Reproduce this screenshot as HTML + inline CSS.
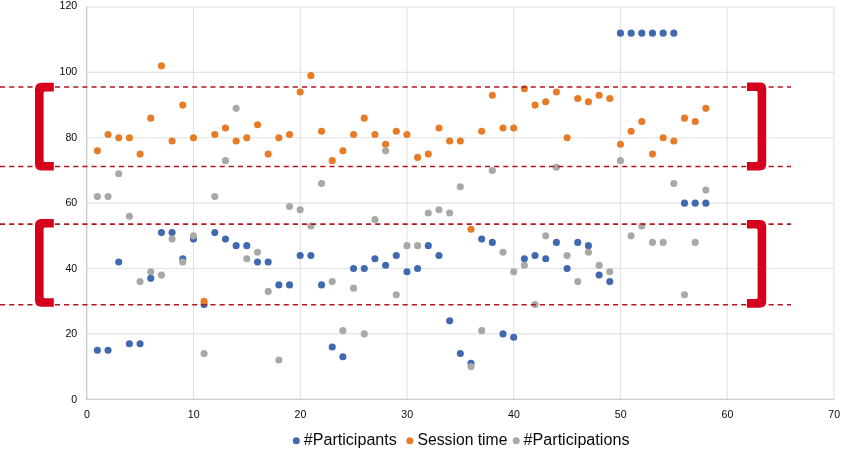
<!DOCTYPE html>
<html lang="en"><head><meta charset="utf-8"><title>Scatter chart</title>
<style>html,body{margin:0;padding:0;background:#fff;}body{width:850px;height:456px;overflow:hidden;}svg{display:block;}text{font-family:"Liberation Sans",Arial,sans-serif;fill:#0a0a0a;}</style></head><body>
<svg width="850" height="456" viewBox="0 0 850 456">
<rect width="850" height="456" fill="#fff"/>
<g stroke="#e2e2e2" stroke-width="1.1" fill="none">
<line x1="86.70" y1="333.92" x2="834.45" y2="333.92"/>
<line x1="86.70" y1="268.54" x2="834.45" y2="268.54"/>
<line x1="86.70" y1="203.16" x2="834.45" y2="203.16"/>
<line x1="86.70" y1="137.78" x2="834.45" y2="137.78"/>
<line x1="86.70" y1="72.40" x2="834.45" y2="72.40"/>
<line x1="86.70" y1="7.02" x2="834.45" y2="7.02"/>
<line x1="193.45" y1="7.02" x2="193.45" y2="399.30"/>
<line x1="300.20" y1="7.02" x2="300.20" y2="399.30"/>
<line x1="406.95" y1="7.02" x2="406.95" y2="399.30"/>
<line x1="513.70" y1="7.02" x2="513.70" y2="399.30"/>
<line x1="620.45" y1="7.02" x2="620.45" y2="399.30"/>
<line x1="727.20" y1="7.02" x2="727.20" y2="399.30"/>
<line x1="833.95" y1="7.02" x2="833.95" y2="399.30"/>
</g>
<g stroke="#bfbfbf" stroke-width="1.1" fill="none">
<line x1="86.70" y1="6.52" x2="86.70" y2="399.80"/>
<line x1="86.20" y1="399.30" x2="834.45" y2="399.30"/>
</g>
<g font-size="10.6" text-anchor="end">
<text x="77.2" y="402.85">0</text>
<text x="77.2" y="337.30">20</text>
<text x="77.2" y="271.75">40</text>
<text x="77.2" y="206.20">60</text>
<text x="77.2" y="140.65">80</text>
<text x="77.2" y="75.10">100</text>
<text x="77.2" y="9.20">120</text>
</g>
<g font-size="10.6" text-anchor="middle">
<text x="86.90" y="418.1">0</text>
<text x="193.65" y="418.1">10</text>
<text x="300.40" y="418.1">20</text>
<text x="407.15" y="418.1">30</text>
<text x="513.90" y="418.1">40</text>
<text x="620.65" y="418.1">50</text>
<text x="727.40" y="418.1">60</text>
<text x="834.15" y="418.1">70</text>
</g>
<g fill="#4169b0">
<circle cx="97.38" cy="350.26" r="3.55"/><circle cx="108.05" cy="350.26" r="3.55"/><circle cx="118.73" cy="262.00" r="3.55"/><circle cx="129.40" cy="343.73" r="3.55"/><circle cx="140.07" cy="343.73" r="3.55"/><circle cx="150.75" cy="278.35" r="3.55"/><circle cx="161.43" cy="232.58" r="3.55"/><circle cx="172.10" cy="232.58" r="3.55"/><circle cx="182.78" cy="258.73" r="3.55"/><circle cx="193.45" cy="239.12" r="3.55"/><circle cx="204.12" cy="304.50" r="3.55"/><circle cx="214.80" cy="232.58" r="3.55"/><circle cx="225.48" cy="239.12" r="3.55"/><circle cx="236.15" cy="245.66" r="3.55"/><circle cx="246.82" cy="245.66" r="3.55"/><circle cx="257.50" cy="262.00" r="3.55"/><circle cx="268.18" cy="262.00" r="3.55"/><circle cx="278.85" cy="284.88" r="3.55"/><circle cx="289.53" cy="284.88" r="3.55"/><circle cx="300.20" cy="255.46" r="3.55"/><circle cx="310.88" cy="255.46" r="3.55"/><circle cx="321.55" cy="284.88" r="3.55"/><circle cx="332.23" cy="347.00" r="3.55"/><circle cx="342.90" cy="356.80" r="3.55"/><circle cx="353.57" cy="268.54" r="3.55"/><circle cx="364.25" cy="268.54" r="3.55"/><circle cx="374.93" cy="258.73" r="3.55"/><circle cx="385.60" cy="265.27" r="3.55"/><circle cx="396.28" cy="255.46" r="3.55"/><circle cx="406.95" cy="271.81" r="3.55"/><circle cx="417.62" cy="268.54" r="3.55"/><circle cx="428.30" cy="245.66" r="3.55"/><circle cx="438.98" cy="255.46" r="3.55"/><circle cx="449.65" cy="320.84" r="3.55"/><circle cx="460.32" cy="353.53" r="3.55"/><circle cx="471.00" cy="363.34" r="3.55"/><circle cx="481.68" cy="239.12" r="3.55"/><circle cx="492.35" cy="242.39" r="3.55"/><circle cx="503.03" cy="333.92" r="3.55"/><circle cx="513.70" cy="337.19" r="3.55"/><circle cx="524.38" cy="258.73" r="3.55"/><circle cx="535.05" cy="255.46" r="3.55"/><circle cx="545.73" cy="258.73" r="3.55"/><circle cx="556.40" cy="242.39" r="3.55"/><circle cx="567.08" cy="268.54" r="3.55"/><circle cx="577.75" cy="242.39" r="3.55"/><circle cx="588.43" cy="245.66" r="3.55"/><circle cx="599.10" cy="275.08" r="3.55"/><circle cx="609.78" cy="281.62" r="3.55"/><circle cx="620.45" cy="33.17" r="3.55"/><circle cx="631.13" cy="33.17" r="3.55"/><circle cx="641.80" cy="33.17" r="3.55"/><circle cx="652.48" cy="33.17" r="3.55"/><circle cx="663.15" cy="33.17" r="3.55"/><circle cx="673.83" cy="33.17" r="3.55"/><circle cx="684.50" cy="203.16" r="3.55"/><circle cx="695.18" cy="203.16" r="3.55"/><circle cx="705.85" cy="203.16" r="3.55"/>
</g>
<g fill="#e87b25">
<circle cx="97.38" cy="150.86" r="3.55"/><circle cx="108.05" cy="134.51" r="3.55"/><circle cx="118.73" cy="137.78" r="3.55"/><circle cx="129.40" cy="137.78" r="3.55"/><circle cx="140.07" cy="154.12" r="3.55"/><circle cx="150.75" cy="118.17" r="3.55"/><circle cx="161.43" cy="65.86" r="3.55"/><circle cx="172.10" cy="141.05" r="3.55"/><circle cx="182.78" cy="105.09" r="3.55"/><circle cx="193.45" cy="137.78" r="3.55"/><circle cx="204.12" cy="301.23" r="3.55"/><circle cx="214.80" cy="134.51" r="3.55"/><circle cx="225.48" cy="127.97" r="3.55"/><circle cx="236.15" cy="141.05" r="3.55"/><circle cx="246.82" cy="137.78" r="3.55"/><circle cx="257.50" cy="124.70" r="3.55"/><circle cx="268.18" cy="154.12" r="3.55"/><circle cx="278.85" cy="137.78" r="3.55"/><circle cx="289.53" cy="134.51" r="3.55"/><circle cx="300.20" cy="92.01" r="3.55"/><circle cx="310.88" cy="75.67" r="3.55"/><circle cx="321.55" cy="131.24" r="3.55"/><circle cx="332.23" cy="160.66" r="3.55"/><circle cx="342.90" cy="150.86" r="3.55"/><circle cx="353.57" cy="134.51" r="3.55"/><circle cx="364.25" cy="118.17" r="3.55"/><circle cx="374.93" cy="134.51" r="3.55"/><circle cx="385.60" cy="144.32" r="3.55"/><circle cx="396.28" cy="131.24" r="3.55"/><circle cx="406.95" cy="134.51" r="3.55"/><circle cx="417.62" cy="157.39" r="3.55"/><circle cx="428.30" cy="154.12" r="3.55"/><circle cx="438.98" cy="127.97" r="3.55"/><circle cx="449.65" cy="141.05" r="3.55"/><circle cx="460.32" cy="141.05" r="3.55"/><circle cx="471.00" cy="229.31" r="3.55"/><circle cx="481.68" cy="131.24" r="3.55"/><circle cx="492.35" cy="95.28" r="3.55"/><circle cx="503.03" cy="127.97" r="3.55"/><circle cx="513.70" cy="127.97" r="3.55"/><circle cx="524.38" cy="88.75" r="3.55"/><circle cx="535.05" cy="105.09" r="3.55"/><circle cx="545.73" cy="101.82" r="3.55"/><circle cx="556.40" cy="92.01" r="3.55"/><circle cx="567.08" cy="137.78" r="3.55"/><circle cx="577.75" cy="98.55" r="3.55"/><circle cx="588.43" cy="101.82" r="3.55"/><circle cx="599.10" cy="95.28" r="3.55"/><circle cx="609.78" cy="98.55" r="3.55"/><circle cx="620.45" cy="144.32" r="3.55"/><circle cx="631.13" cy="131.24" r="3.55"/><circle cx="641.80" cy="121.44" r="3.55"/><circle cx="652.48" cy="154.12" r="3.55"/><circle cx="663.15" cy="137.78" r="3.55"/><circle cx="673.83" cy="141.05" r="3.55"/><circle cx="684.50" cy="118.17" r="3.55"/><circle cx="695.18" cy="121.44" r="3.55"/><circle cx="705.85" cy="108.36" r="3.55"/>
</g>
<g fill="#a8a8a6">
<circle cx="97.38" cy="196.62" r="3.55"/><circle cx="108.05" cy="196.62" r="3.55"/><circle cx="118.73" cy="173.74" r="3.55"/><circle cx="129.40" cy="216.24" r="3.55"/><circle cx="140.07" cy="281.62" r="3.55"/><circle cx="150.75" cy="271.81" r="3.55"/><circle cx="161.43" cy="275.08" r="3.55"/><circle cx="172.10" cy="239.12" r="3.55"/><circle cx="182.78" cy="262.00" r="3.55"/><circle cx="193.45" cy="235.85" r="3.55"/><circle cx="204.12" cy="353.53" r="3.55"/><circle cx="214.80" cy="196.62" r="3.55"/><circle cx="225.48" cy="160.66" r="3.55"/><circle cx="236.15" cy="108.36" r="3.55"/><circle cx="246.82" cy="258.73" r="3.55"/><circle cx="257.50" cy="252.19" r="3.55"/><circle cx="268.18" cy="291.42" r="3.55"/><circle cx="278.85" cy="360.07" r="3.55"/><circle cx="289.53" cy="206.43" r="3.55"/><circle cx="300.20" cy="209.70" r="3.55"/><circle cx="310.88" cy="226.04" r="3.55"/><circle cx="321.55" cy="183.55" r="3.55"/><circle cx="332.23" cy="281.62" r="3.55"/><circle cx="342.90" cy="330.65" r="3.55"/><circle cx="353.57" cy="288.15" r="3.55"/><circle cx="364.25" cy="333.92" r="3.55"/><circle cx="374.93" cy="219.50" r="3.55"/><circle cx="385.60" cy="150.86" r="3.55"/><circle cx="396.28" cy="294.69" r="3.55"/><circle cx="406.95" cy="245.66" r="3.55"/><circle cx="417.62" cy="245.66" r="3.55"/><circle cx="428.30" cy="212.97" r="3.55"/><circle cx="438.98" cy="209.70" r="3.55"/><circle cx="449.65" cy="212.97" r="3.55"/><circle cx="460.32" cy="186.81" r="3.55"/><circle cx="471.00" cy="366.61" r="3.55"/><circle cx="481.68" cy="330.65" r="3.55"/><circle cx="492.35" cy="170.47" r="3.55"/><circle cx="503.03" cy="252.19" r="3.55"/><circle cx="513.70" cy="271.81" r="3.55"/><circle cx="524.38" cy="265.27" r="3.55"/><circle cx="535.05" cy="304.50" r="3.55"/><circle cx="545.73" cy="235.85" r="3.55"/><circle cx="556.40" cy="167.20" r="3.55"/><circle cx="567.08" cy="255.46" r="3.55"/><circle cx="577.75" cy="281.62" r="3.55"/><circle cx="588.43" cy="252.19" r="3.55"/><circle cx="599.10" cy="265.27" r="3.55"/><circle cx="609.78" cy="271.81" r="3.55"/><circle cx="620.45" cy="160.66" r="3.55"/><circle cx="631.13" cy="235.85" r="3.55"/><circle cx="641.80" cy="226.04" r="3.55"/><circle cx="652.48" cy="242.39" r="3.55"/><circle cx="663.15" cy="242.39" r="3.55"/><circle cx="673.83" cy="183.55" r="3.55"/><circle cx="684.50" cy="294.69" r="3.55"/><circle cx="695.18" cy="242.39" r="3.55"/><circle cx="705.85" cy="190.08" r="3.55"/>
</g>
<g stroke="#b3151f" stroke-width="1.6" stroke-dasharray="5.1 4.05" fill="none">
<line x1="0" y1="86.95" x2="791" y2="86.95"/>
<line x1="0" y1="166.50" x2="791" y2="166.50"/>
<line x1="0" y1="224.10" x2="791" y2="224.10"/>
<line x1="0" y1="304.80" x2="791" y2="304.80"/>
</g>
<g fill="#d6001c">
<path d="M53.80 82.80 H41.50 Q35.00 82.80 35.00 89.30 V164.00 Q35.00 170.50 41.50 170.50 H53.80 V161.90 H45.10 Q43.60 161.90 43.60 160.40 V92.90 Q43.60 91.40 45.10 91.40 H53.80 Z"/>
<path d="M53.80 218.90 H41.50 Q35.00 218.90 35.00 225.40 V300.25 Q35.00 306.75 41.50 306.75 H53.80 V298.15 H45.10 Q43.60 298.15 43.60 296.65 V229.00 Q43.60 227.50 45.10 227.50 H53.80 Z"/>
<path d="M747.00 82.40 H759.70 Q766.20 82.40 766.20 88.90 V164.00 Q766.20 170.50 759.70 170.50 H747.00 V161.90 H756.10 Q757.60 161.90 757.60 160.40 V92.50 Q757.60 91.00 756.10 91.00 H747.00 Z"/>
<path d="M747.00 219.90 H759.70 Q766.20 219.90 766.20 226.40 V301.20 Q766.20 307.70 759.70 307.70 H747.00 V299.10 H756.10 Q757.60 299.10 757.60 297.60 V230.00 Q757.60 228.50 756.10 228.50 H747.00 Z"/>
</g>
<g>
<circle cx="296.3" cy="440.7" r="3.5" fill="#4169b0"/>
<circle cx="409.8" cy="440.7" r="3.5" fill="#e87b25"/>
<circle cx="516.2" cy="440.7" r="3.5" fill="#a8a8a6"/>
<g font-size="15.8">
<text x="303.8" y="445.2" textLength="93" lengthAdjust="spacingAndGlyphs">#Participants</text>
<text x="417.6" y="445.2" textLength="89.8" lengthAdjust="spacingAndGlyphs">Session time</text>
<text x="523.5" y="445.2" textLength="106" lengthAdjust="spacingAndGlyphs">#Participations</text>
</g></g>
</svg></body></html>
